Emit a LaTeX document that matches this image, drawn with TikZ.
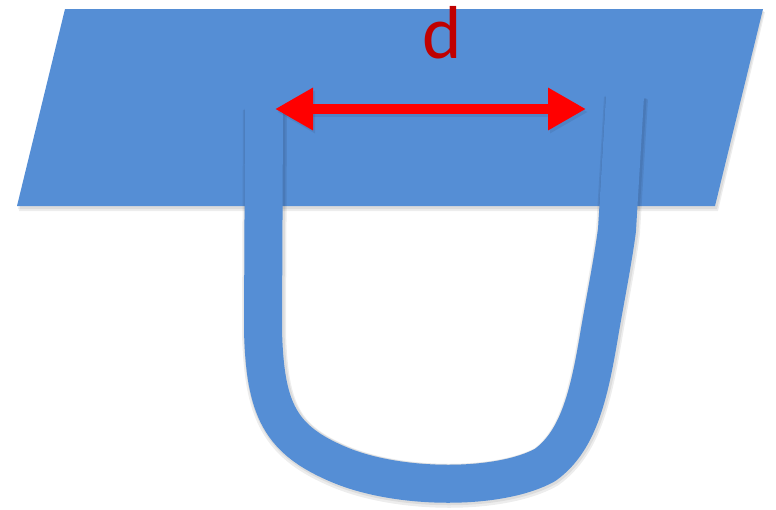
\documentclass[tikz,border=0pt]{standalone}
\usepackage{fontspec}
\setmainfont{Carlito}
\usetikzlibrary{arrows.meta}
\definecolor{planeblue}{HTML}{558ED5}
\definecolor{arrowred}{HTML}{FF0000}
\definecolor{labelred}{HTML}{C00000}
\newcommand\looppath{(264,108) -- (263,330) .. controls (265,410) and (280,440) .. (340,465) .. controls (400,490) and (500,490) .. (545,465) .. controls (580,440) and (590,390) .. (600,330) .. controls (607,290) and (613,260) .. (617,230) -- (625,96)}

\begin{document}
\begin{tikzpicture}[x=1pt, y=-1pt,
    plane/.style={fill=planeblue},
    loopline/.style={draw=planeblue, line width=38pt, line cap=butt},
    softshade/.style={black, opacity=0.07},
    dist/.style={{Triangle[length=38pt,width=40pt]}-{Triangle[length=38pt,width=40pt]}, draw=arrowred, line width=10pt}
]
\useasboundingbox (0,0) rectangle (776,509);
% soft shadows
\fill[softshade] (67,12) -- (765,12) -- (718,211) -- (19,211) -- cycle;
\fill[softshade] (66,11) -- (764,11) -- (717,209) -- (18,209) -- cycle;
% plane
\fill[plane] (65,9) -- (763,9) -- (715,206) -- (17,206) -- cycle;
% loop through the plane
\draw[softshade, line width=44pt] [shift={(1,2)}] \looppath;
\draw[softshade, line width=41pt] [shift={(1,1)}] \looppath;
\draw[loopline] \looppath;
% distance d
\coordinate (dleft) at (275,109);
\coordinate (dright) at (586,109);
\draw[softshade, dist, draw=black] ([shift={(2,3)}]dleft) -- ([shift={(2,3)}]dright);
\draw[dist] (dleft) -- (dright);
\node[text=labelred, font=\fontsize{75}{80}\selectfont, anchor=base, inner sep=0pt] (dlabel) at (442,58) {d};
\end{tikzpicture}
\end{document}
